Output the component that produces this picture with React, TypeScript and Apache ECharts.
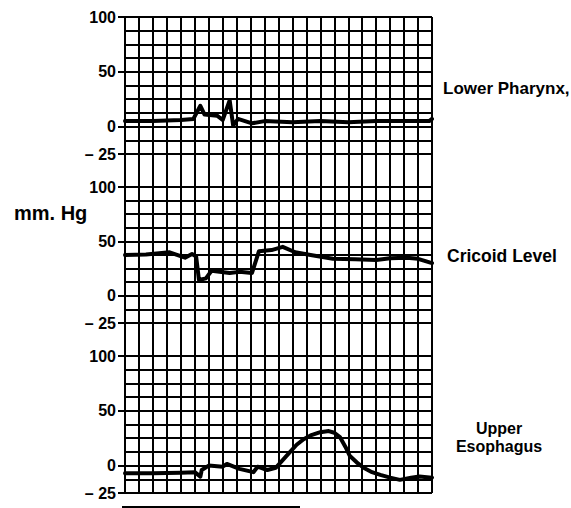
import React, { useEffect, useRef } from "react";
import * as echarts from "echarts";

// x: chart-paper divisions (time), y: pressure in mm Hg
const lowerPharynx: [number, number][] = [
  [0, 5], [2, 5], [4, 6], [4.9, 7], [5.4, 19], [5.7, 11], [6.6, 10], [7.0, 6],
  [7.5, 24], [7.75, 1], [8.1, 7], [9.1, 3], [10, 5], [12, 4], [14, 5], [16, 4],
  [18, 5], [20, 5], [21.8, 5], [22, 7],
];
const cricoidLevel: [number, number][] = [
  [0, 37.5], [1.5, 38], [3.2, 40], [4.3, 35], [4.8, 38.5], [5.1, 36], [5.3, 14.5],
  [5.8, 16], [6.2, 23], [7.5, 21], [8.2, 22], [9.1, 21], [9.6, 41], [10.5, 42],
  [11.3, 45], [12.2, 40], [13.3, 37.5], [14.9, 34], [16.5, 33.5], [18, 33],
  [19, 34.5], [20.2, 35], [21, 34], [22, 30],
];
const upperEsophagus: [number, number][] = [
  [0, -7], [2, -7], [4, -6.5], [5, -6], [5.4, -10], [5.5, -4], [6, 0], [7, -1],
  [7.3, 1.5], [8.2, -3], [9.2, -6], [9.5, -1], [10.2, -4], [10.8, -2], [11.3, 5],
  [11.8, 12], [12.3, 19], [12.8, 24], [13.3, 27.5], [14, 30.5], [14.6, 31.5],
  [15, 30], [15.4, 26], [15.8, 17], [16.1, 9], [16.6, 3], [17.1, -2], [17.7, -6],
  [18.3, -8.5], [19, -11], [19.7, -13], [20.5, -11], [21.1, -10], [22, -11],
];
const tickLabels = [-25, 0, 50, 100];
const panelLabels = ["Lower Pharynx,", "Cricoid Level", "Upper\nEsophagus"];
const yAxisTitle = "mm. Hg";

const FONT = "'Liberation Sans', Arial, Helvetica, sans-serif";

export default function App() {
  const ref = useRef<HTMLDivElement>(null);
  useEffect(() => {
    document.body.style.margin = "0";
    const chart = echarts.init(ref.current!, null, { renderer: "svg" });
    const L = 125, W = 307;
    const panels = [
      { top: 17, height: 137 },
      { top: 187, height: 136 },
      { top: 356, height: 137 },
    ];
    const grids: any[] = [{ left: L, width: W, top: 17, height: 476 }];
    const xAxes: any[] = [{
      gridIndex: 0, type: "value", min: 0, max: 22, interval: 1,
      axisLine: { show: false }, axisTick: { show: false }, axisLabel: { show: false },
      splitLine: { show: true, lineStyle: { color: "#000", width: 2 } },
    }];
    const yAxes: any[] = [{ gridIndex: 0, type: "value", show: false, min: 0, max: 1, splitLine: { show: false } }];
    const series: any[] = [];
    const datas = [lowerPharynx, cricoidLevel, upperEsophagus];
    panels.forEach((p, i) => {
      grids.push({ left: L, width: W, top: p.top, height: p.height });
      xAxes.push({
        gridIndex: i + 1, type: "value", min: 0, max: 22, interval: 1, show: false,
        splitLine: { show: false },
      });
      // labelled axis
      yAxes.push({
        gridIndex: i + 1, type: "value", min: -25, max: 100, interval: 12.5,
        axisLine: { show: true, lineStyle: { color: "#000", width: 2 } },
        axisTick: { show: true, length: 7, customValues: tickLabels, lineStyle: { color: "#000", width: 2 } },
        axisLabel: {
          customValues: tickLabels, margin: 9, color: "#000", fontSize: 16,
          fontWeight: "bold", fontFamily: FONT,
          formatter: (v: number) => (v < 0 ? "\u2013 " + Math.abs(v) : String(v)),
        },
        splitLine: { show: false },
      });
      // grid-line axis
      yAxes.push({
        gridIndex: i + 1, type: "value", min: -25, max: 100, interval: 12.5,
        position: "left",
        axisLine: { show: false }, axisTick: { show: false }, axisLabel: { show: false },
        splitLine: { show: true, lineStyle: { color: "#000", width: 2 } },
      });
      series.push({
        type: "line", xAxisIndex: i + 1, yAxisIndex: yAxes.length - 2, data: datas[i],
        showSymbol: false, symbol: "none",
        lineStyle: { color: "#000", width: 4, join: "round", cap: "round" },
      });
    });
    chart.setOption({
      animation: false,
      backgroundColor: "#fff",
      grid: grids,
      xAxis: xAxes,
      yAxis: yAxes,
      series,
      graphic: [
        { type: "text", left: 14, top: 203, style: { text: yAxisTitle, font: `bold 20px ${FONT}`, fill: "#000" } },
        { type: "text", left: 443, top: 80, style: { text: panelLabels[0], font: `bold 17px ${FONT}`, fill: "#000" } },
        { type: "text", left: 447, top: 247, style: { text: panelLabels[1], font: `bold 17.5px ${FONT}`, fill: "#000" } },
        {
          type: "text", x: 499, y: 419,
          style: { text: panelLabels[2], font: `bold 16px ${FONT}`, fill: "#000", align: "center", verticalAlign: "top", lineHeight: 18 },
        },
        { type: "line", shape: { x1: 122, y1: 507, x2: 300, y2: 507 }, style: { stroke: "#000", lineWidth: 2 } },
      ],
    });
    return () => chart.dispose();
  }, []);
  return <div ref={ref} style={{ width: 571, height: 508 }} />;
}
